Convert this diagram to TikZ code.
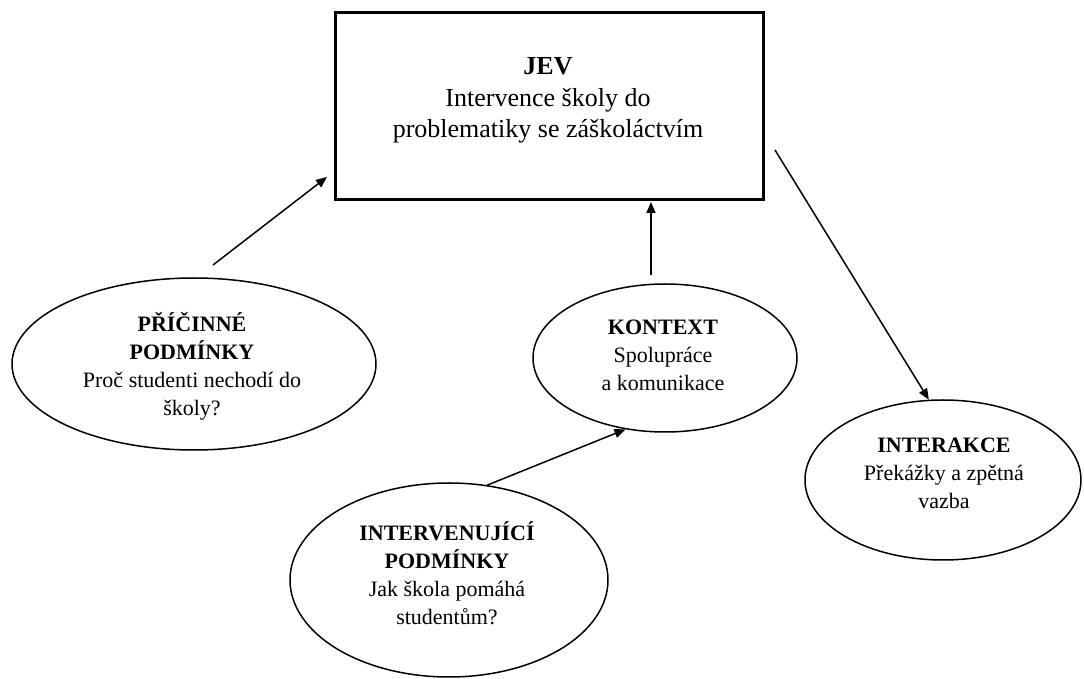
\documentclass[tikz,border=0pt]{standalone}
\usepackage{fontspec}
\setmainfont{Liberation Serif}
\usetikzlibrary{shapes.geometric,arrows.meta}
\begin{document}
\begin{tikzpicture}[x=0.5pt,y=-0.5pt,
  box/.style={draw,line width=1.5pt,minimum width=214pt,minimum height=93.5pt,inner sep=0pt},
  oval/.style={draw,ellipse,line width=0.75pt,inner sep=0pt},
  boxtext/.style={align=center,inner sep=0pt,font=\fontsize{13}{15.7}\selectfont},
  ovaltext/.style={align=center,inner sep=0pt,font=\fontsize{11}{14}\selectfont},
  arr/.style={-{Triangle[length=5.5pt,width=4.5pt]},line width=0.75pt}]
\useasboundingbox (0,0) rectangle (1084,679);
% phenomenon box
\node[box] (jev) at (549,106.5) {};
\node[boxtext] (jevtext) at (548,100.5) {\textbf{JEV}\\Intervence školy do\\problematiky se záškoláctvím};
% ellipses
\node[oval,minimum width=182pt,minimum height=86pt] (pricin) at (194,364) {};
\node[ovaltext] (pricintext) at (192,366) {\textbf{PŘÍČINNÉ}\\\textbf{PODMÍNKY}\\Proč studenti nechodí do\\školy?};
\node[oval,minimum width=132pt,minimum height=74pt] (kontext) at (665,358) {};
\node[ovaltext] (kontexttext) at (663,355) {\textbf{KONTEXT}\\Spolupráce\\a komunikace};
\node[oval,minimum width=159pt,minimum height=97pt] (interv) at (449,580) {};
\node[ovaltext] (intervtext) at (447,573) {\textbf{INTERVENUJÍCÍ}\\\textbf{PODMÍNKY}\\Jak škola pomáhá\\studentům?};
\node[oval,minimum width=138pt,minimum height=80pt] (interakce) at (943,480) {};
\node[ovaltext] (interakcetext) at (944,473) {\textbf{INTERAKCE}\\Překážky a zpětná\\vazba};
% connectors
\coordinate (a1s) at (213,265);
\coordinate (a1e) at (327,177);
\coordinate (a2s) at (651,275);
\coordinate (a2e) at (651,202);
\coordinate (a4s) at (775,150);
\draw[arr] (a1s) -- (a1e);
\draw[arr] (a2s) -- (a2e);
\draw[arr] (interv.68) -- (kontext.241);
\draw[arr] (a4s) -- (interakce.100);
\end{tikzpicture}
\end{document}
